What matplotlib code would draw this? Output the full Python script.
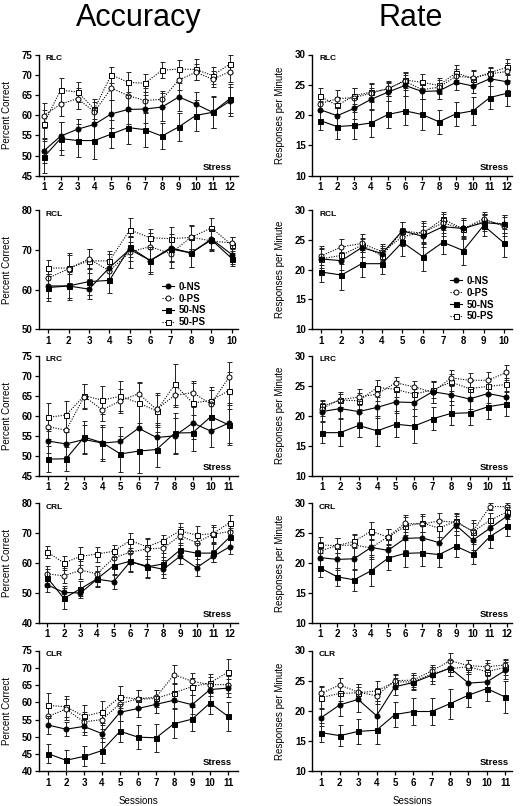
import matplotlib
matplotlib.use('Agg')
import matplotlib.pyplot as plt
from matplotlib.lines import Line2D

plt.rcParams['font.family'] = ['Liberation Sans', 'DejaVu Sans']
plt.rcParams['font.weight'] = 'bold'

# ---------------- data ----------------
series_names = ['0-NS', '0-PS', '50-NS', '50-PS']
panel_names = ['RLC', 'RCL', 'LRC', 'CRL', 'CLR']

sessions_RLC = [1, 2, 3, 4, 5, 6, 7, 8, 9, 10, 11, 12]
sessions_RCL = [1, 2, 3, 4, 5, 6, 7, 8, 9, 10]
sessions_LRC = [1, 2, 3, 4, 5, 6, 7, 8, 9, 10, 11]
sessions_CRL = [1, 2, 3, 4, 5, 6, 7, 8, 9, 10, 11, 12]
sessions_CLR = [1, 2, 3, 4, 5, 6, 7, 8, 9, 10, 11]

# Accuracy (Percent Correct)
acc_RLC_0NS = [51.1, 54.8, 56.5, 57.7, 60.3, 61.4, 61.5, 62.0, 64.5, 62.7, 60.7, 63.4]
acc_RLC_0PS = [59.9, 62.7, 64.1, 60.8, 66.7, 64.8, 63.6, 63.9, 68.7, 70.6, 68.9, 70.7]
acc_RLC_50NS = [49.6, 54.2, 53.7, 53.7, 55.3, 56.9, 56.4, 54.8, 57.1, 59.9, 60.7, 64.0]
acc_RLC_50PS = [57.8, 66.2, 65.7, 61.5, 70.0, 68.1, 67.9, 71.1, 71.4, 71.3, 69.8, 72.6]
acc_RLC_0NS_err = [3.0, 3.5, 2.5, 4.0, 3.5, 3.5, 3.5, 3.5, 3.5, 3.0, 4.0, 3.5]
acc_RLC_0PS_err = [3.0, 3.0, 2.5, 2.5, 3.0, 3.0, 3.0, 2.0, 2.5, 2.0, 2.0, 2.5]
acc_RLC_50NS_err = [3.9, 4.0, 4.0, 4.6, 3.5, 4.0, 4.3, 3.3, 3.4, 3.8, 3.8, 3.6]
acc_RLC_50PS_err = [3.5, 3.0, 2.5, 2.5, 2.0, 2.5, 2.2, 2.0, 2.2, 2.5, 2.0, 2.2]

acc_RCL_0NS = [60.9, 60.9, 60.1, 65.5, 70.1, 67.3, 70.5, 69.2, 72.7, 68.8]
acc_RCL_0PS = [62.9, 65.2, 67.7, 64.7, 69.4, 70.8, 69.0, 73.2, 72.2, 71.7]
acc_RCL_50NS = [60.5, 60.9, 62.0, 62.3, 70.6, 67.3, 70.2, 69.2, 72.5, 67.8]
acc_RCL_50PS = [65.4, 65.4, 67.2, 67.2, 75.0, 73.0, 72.8, 73.1, 75.5, 71.2]
acc_RCL_0NS_err = [3.0, 3.0, 2.5, 3.5, 3.0, 3.5, 3.5, 3.5, 2.5, 2.5]
acc_RCL_0PS_err = [3.0, 3.5, 2.5, 3.0, 4.0, 3.5, 3.5, 3.0, 2.5, 1.5]
acc_RCL_50NS_err = [3.5, 3.5, 3.5, 3.2, 2.5, 3.0, 3.0, 3.5, 2.5, 2.0]
acc_RCL_50PS_err = [2.0, 3.8, 3.0, 2.5, 3.0, 2.2, 2.8, 3.0, 2.5, 2.0]

acc_LRC_0NS = [53.7, 53.0, 54.1, 53.2, 53.6, 56.9, 54.6, 55.0, 58.2, 56.2, 58.2]
acc_LRC_0PS = [57.3, 56.4, 64.8, 61.5, 63.7, 65.5, 61.6, 65.1, 65.8, 62.9, 69.6]
acc_LRC_50NS = [49.2, 49.3, 54.7, 53.3, 50.5, 51.2, 51.6, 55.7, 55.8, 59.8, 57.7]
acc_LRC_50PS = [59.6, 60.2, 65.0, 63.9, 64.9, 63.2, 61.2, 67.8, 63.2, 63.8, 66.3]
acc_LRC_0NS_err = [3.0, 3.0, 3.5, 4.0, 3.5, 5.5, 3.5, 4.5, 4.0, 4.0, 5.0]
acc_LRC_0PS_err = [3.0, 3.5, 3.0, 2.8, 3.0, 3.0, 4.0, 3.0, 2.8, 3.5, 3.9]
acc_LRC_50NS_err = [3.2, 3.0, 4.0, 4.5, 4.5, 5.5, 4.3, 5.0, 4.5, 3.5, 5.0]
acc_LRC_50PS_err = [3.5, 3.5, 3.0, 3.5, 3.8, 5.0, 4.0, 5.1, 5.0, 3.5, 4.5]

acc_CRL_0NS = [52.7, 50.2, 50.0, 54.6, 53.8, 60.4, 59.0, 57.9, 62.2, 58.4, 62.2, 65.4]
acc_CRL_0PS = [56.4, 55.7, 57.6, 56.4, 61.7, 63.6, 64.7, 65.0, 69.1, 66.8, 69.6, 70.5]
acc_CRL_50NS = [55.1, 48.2, 51.4, 54.7, 59.1, 60.6, 58.7, 59.7, 64.3, 63.3, 63.3, 68.6]
acc_CRL_50PS = [63.7, 60.0, 62.2, 63.0, 63.9, 67.5, 65.4, 67.5, 70.7, 69.3, 69.8, 73.5]
acc_CRL_0NS_err = [2.5, 2.0, 1.8, 2.6, 2.4, 3.0, 3.5, 3.0, 2.5, 2.8, 2.0, 2.5]
acc_CRL_0PS_err = [2.5, 2.5, 3.0, 2.5, 3.0, 3.5, 3.2, 3.0, 3.0, 2.5, 2.5, 2.5]
acc_CRL_50NS_err = [3.0, 3.5, 2.5, 2.5, 3.0, 3.5, 3.8, 3.5, 2.5, 3.5, 3.0, 3.0]
acc_CRL_50PS_err = [2.0, 2.3, 3.0, 2.5, 2.0, 2.5, 3.0, 2.0, 2.8, 3.0, 3.0, 2.5]

acc_CLR_0NS = [53.4, 52.2, 53.0, 50.9, 57.1, 58.2, 59.4, 60.6, 59.3, 63.7, 64.1]
acc_CLR_0PS = [55.9, 58.0, 54.3, 55.0, 59.6, 61.0, 61.5, 68.0, 66.1, 65.1, 65.1]
acc_CLR_50NS = [45.1, 43.2, 44.3, 46.0, 51.6, 49.9, 49.7, 53.8, 55.1, 59.8, 55.9]
acc_CLR_50PS = [59.1, 58.7, 55.9, 57.2, 61.6, 60.9, 61.1, 62.8, 64.5, 65.6, 68.8]
acc_CLR_0NS_err = [2.5, 2.0, 2.5, 2.5, 2.5, 2.5, 2.5, 2.4, 2.7, 2.0, 2.5]
acc_CLR_0PS_err = [2.5, 3.0, 2.8, 2.8, 2.5, 2.6, 2.2, 2.8, 2.3, 2.3, 2.5]
acc_CLR_50NS_err = [2.8, 3.1, 2.9, 3.6, 3.1, 3.5, 4.0, 4.2, 3.5, 3.3, 4.2]
acc_CLR_50PS_err = [3.7, 3.0, 3.3, 3.3, 3.2, 2.8, 2.5, 2.7, 2.5, 2.7, 3.7]

# Rate (Responses per Minute)
rate_RLC_0NS = [20.9, 19.9, 21.1, 22.6, 23.8, 24.9, 23.9, 24.0, 25.4, 24.8, 26.0, 25.5]
rate_RLC_0PS = [21.9, 22.7, 22.9, 23.6, 24.4, 25.6, 24.2, 24.6, 26.4, 26.2, 26.8, 27.2]
rate_RLC_50NS = [19.1, 18.1, 18.3, 18.7, 20.1, 20.7, 20.1, 18.9, 20.2, 20.7, 22.9, 23.6]
rate_RLC_50PS = [23.1, 21.6, 23.2, 23.8, 24.3, 25.8, 25.4, 24.9, 27.0, 26.0, 27.0, 27.9]
rate_RLC_0NS_err = [1.5, 1.5, 1.8, 1.8, 1.5, 1.7, 1.3, 1.3, 1.3, 1.2, 1.2, 1.3]
rate_RLC_0PS_err = [1.3, 1.4, 1.5, 1.5, 1.2, 1.4, 1.5, 1.2, 1.2, 1.2, 1.0, 1.4]
rate_RLC_50NS_err = [1.6, 2.1, 2.2, 2.3, 2.2, 2.4, 2.6, 2.0, 2.0, 2.3, 1.9, 2.1]
rate_RLC_50PS_err = [1.3, 1.4, 1.3, 1.5, 1.2, 1.3, 1.4, 1.2, 1.2, 1.2, 1.0, 1.3]

rate_RCL_0NS = [21.8, 21.5, 23.7, 22.7, 26.5, 25.6, 27.2, 26.9, 27.9, 27.6]
rate_RCL_0PS = [22.3, 23.8, 24.4, 23.0, 25.5, 26.3, 27.8, 26.9, 28.5, 27.3]
rate_RCL_50NS = [19.6, 19.1, 21.0, 21.0, 24.6, 22.2, 24.6, 23.2, 27.4, 24.5]
rate_RCL_50PS = [21.8, 22.4, 24.1, 22.3, 26.5, 26.1, 28.5, 26.8, 28.2, 27.6]
rate_RCL_0NS_err = [1.6, 1.5, 1.5, 1.2, 1.5, 1.8, 1.5, 1.5, 1.5, 1.5]
rate_RCL_0PS_err = [1.6, 1.4, 1.5, 1.3, 1.5, 1.9, 1.6, 1.7, 1.2, 1.6]
rate_RCL_50NS_err = [1.6, 2.5, 2.3, 1.8, 2.3, 2.5, 2.0, 2.4, 1.8, 2.3]
rate_RCL_50PS_err = [1.8, 1.5, 1.2, 1.3, 1.5, 1.8, 1.2, 1.5, 1.2, 1.5]

rate_LRC_0NS = [20.7, 21.2, 20.7, 21.4, 22.3, 22.2, 24.0, 23.5, 22.8, 23.7, 23.1]
rate_LRC_0PS = [21.2, 22.7, 23.1, 23.6, 25.5, 24.8, 23.9, 26.3, 25.9, 25.9, 27.2]
rate_LRC_50NS = [17.2, 17.2, 18.4, 17.5, 18.6, 18.3, 19.5, 20.4, 20.5, 21.5, 22.0]
rate_LRC_50PS = [21.6, 22.6, 22.5, 24.7, 24.4, 23.6, 24.3, 25.6, 24.5, 24.9, 25.2]
rate_LRC_0NS_err = [1.5, 1.6, 1.7, 1.7, 1.8, 2.3, 1.8, 1.7, 1.6, 1.5, 1.7]
rate_LRC_0PS_err = [1.2, 1.2, 1.3, 1.2, 1.0, 1.0, 1.7, 1.3, 1.2, 1.4, 1.2]
rate_LRC_50NS_err = [1.8, 2.2, 2.0, 2.5, 2.2, 2.8, 1.9, 2.0, 2.0, 2.0, 2.0]
rate_LRC_50PS_err = [1.0, 1.1, 1.3, 1.2, 1.3, 1.2, 1.4, 1.4, 1.3, 1.2, 1.1]

rate_CRL_0NS = [20.9, 20.6, 20.7, 22.6, 22.1, 24.1, 24.2, 23.4, 26.3, 23.8, 25.8, 27.8]
rate_CRL_0PS = [22.0, 22.9, 23.0, 22.5, 24.4, 26.6, 26.5, 27.0, 26.8, 25.3, 29.4, 29.4]
rate_CRL_50NS = [19.2, 17.7, 17.2, 18.7, 20.8, 21.6, 21.7, 21.4, 22.8, 21.5, 24.4, 26.2]
rate_CRL_50PS = [23.0, 22.9, 23.6, 25.3, 24.3, 26.1, 26.7, 25.8, 27.0, 25.2, 27.1, 28.5]
rate_CRL_0NS_err = [1.8, 1.8, 1.9, 2.0, 1.8, 2.0, 2.2, 2.0, 1.6, 1.7, 1.7, 1.5]
rate_CRL_0PS_err = [1.5, 1.3, 1.8, 1.5, 1.3, 1.4, 1.3, 1.4, 1.5, 1.8, 0.6, 0.6]
rate_CRL_50NS_err = [1.5, 1.5, 1.8, 2.6, 1.9, 2.3, 2.2, 2.0, 1.8, 1.6, 1.9, 1.7]
rate_CRL_50PS_err = [1.3, 1.2, 1.1, 1.5, 1.3, 1.5, 1.5, 1.4, 1.2, 1.4, 1.3, 1.2]

rate_CLR_0NS = [18.9, 21.0, 21.9, 19.2, 24.0, 24.7, 25.9, 27.1, 24.6, 24.8, 26.7]
rate_CLR_0PS = [22.9, 24.3, 23.1, 22.5, 25.0, 25.1, 26.6, 28.3, 27.5, 27.3, 27.6]
rate_CLR_50NS = [16.4, 15.9, 16.6, 16.8, 19.4, 19.9, 19.9, 21.2, 22.6, 23.7, 22.3]
rate_CLR_50PS = [22.2, 22.9, 23.0, 23.3, 24.8, 24.8, 26.1, 27.0, 27.3, 26.5, 27.2]
rate_CLR_0NS_err = [1.4, 1.9, 2.1, 2.4, 1.4, 1.3, 1.4, 1.4, 1.5, 1.7, 1.4]
rate_CLR_0PS_err = [1.2, 1.2, 1.4, 1.3, 1.1, 1.2, 1.0, 1.3, 1.0, 1.1, 1.0]
rate_CLR_50NS_err = [1.6, 1.7, 2.1, 2.2, 2.0, 2.3, 2.3, 2.5, 2.0, 2.1, 2.6]
rate_CLR_50PS_err = [1.7, 1.3, 1.4, 1.7, 1.2, 1.2, 1.2, 1.3, 1.2, 1.5, 1.3]

acc_yticks = {'RLC': [45, 50, 55, 60, 65, 70, 75], 'RCL': [50, 60, 70, 80],
              'LRC': [45, 50, 55, 60, 65, 70, 75], 'CRL': [40, 50, 60, 70, 80],
              'CLR': [40, 45, 50, 55, 60, 65, 70, 75]}
rate_yticks = [10, 15, 20, 25, 30]

# ---------------- assemble ----------------
G = globals()
sessions = {p: G['sessions_' + p] for p in panel_names}

def get(kind, p):
    vals, errs = {}, {}
    for s in series_names:
        key = s.replace('-', '')
        vals[s] = G[f'{kind}_{p}_{key}']
        errs[s] = G[f'{kind}_{p}_{key}_err']
    return vals, errs

styles = {
    '0-NS': dict(marker='o', mfc='black', ls='-'),
    '0-PS': dict(marker='o', mfc='white', ls=(0, (1, 1.3))),
    '50-NS': dict(marker='s', mfc='black', ls='-'),
    '50-PS': dict(marker='s', mfc='white', ls=(0, (1, 1.3))),
}
draw_order = ['50-PS', '0-PS', '0-NS', '50-NS']

W, H = 522, 806
fig = plt.figure(figsize=(W / 100, H / 100), dpi=100)

rows = [(54.5, 175.7), (210, 329.3), (355.6, 476), (503, 623), (650.5, 771.3)]
cols = {'acc': (39, 238), 'rate': (312, 512)}

acc_xlim = {'RLC': (0.72, 12.5), 'RCL': (0.55, 10.3), 'LRC': (0.5, 11.5),
            'CRL': (0.5, 12.5), 'CLR': (0.5, 11.55)}
rate_xlim = {'RLC': (0.52, 12.3), 'RCL': (0.55, 10.4), 'LRC': (0.47, 11.3),
             'CRL': (0.52, 12.3), 'CLR': (0.49, 11.37)}


def make_ax(x0, x1, ytop, ybot):
    return fig.add_axes([x0 / W, 1 - ybot / H, (x1 - x0) / W, (ybot - ytop) / H])


for i, p in enumerate(panel_names):
    ytop, ybot = rows[i]
    for kind in ['acc', 'rate']:
        x0, x1 = cols[kind]
        ax = make_ax(x0, x1, ytop, ybot)
        vals, errs = get(kind, p)
        x = sessions[p]
        for s in draw_order:
            st = styles[s]
            ax.errorbar(x, vals[s], yerr=errs[s], color='black', lw=0.8,
                        ls=st['ls'], marker=st['marker'], ms=3.6,
                        mfc=st['mfc'], mec='black', mew=0.7,
                        ecolor='#222222', elinewidth=0.7, capsize=1.8,
                        capthick=0.7, zorder=3 if 'NS' in s else 2)
        if kind == 'acc':
            yt = acc_yticks[p]
            ax.set_xlim(*acc_xlim[p])
            ax.set_ylabel('Percent Correct', fontsize=7)
            stress_x = 0.97
        else:
            yt = rate_yticks
            ax.set_xlim(*rate_xlim[p])
            ax.set_ylabel('Responses per Minute', fontsize=7)
            stress_x = 0.985
        ax.set_ylim(yt[0], yt[-1])
        ax.set_yticks(yt)
        ax.set_xticks(x)
        ax.yaxis.set_label_coords(-0.135, 0.5)
        for sp in ['top', 'right']:
            ax.spines[sp].set_visible(False)
        for sp in ['left', 'bottom']:
            ax.spines[sp].set_linewidth(1.0)
        ax.tick_params(direction='out', length=3, width=0.9, labelsize=7, pad=1.5)
        ax.text(0.035, 0.965, p, transform=ax.transAxes, fontsize=6,
                fontweight='bold', ha='left', va='center')
        if p != 'RCL':
            ax.text(stress_x, 0.07, 'Stress', transform=ax.transAxes,
                    fontsize=6.8, fontweight='bold', ha='right', va='center')
        else:
            handles = [Line2D([0], [0], color='black', lw=0.8, ls=styles[s]['ls'],
                              marker=styles[s]['marker'], ms=3.6,
                              mfc=styles[s]['mfc'], mec='black', mew=0.7)
                       for s in series_names]
            anchor = (0.62, 0.40) if kind == 'acc' else (0.69, 0.45)
            ax.legend(handles, series_names, loc='upper left', bbox_to_anchor=anchor,
                      frameon=False, fontsize=7, handlelength=1.2,
                      handletextpad=0.5, labelspacing=0.2, borderpad=0,
                      borderaxespad=0)
        if i == len(panel_names) - 1:
            ax.set_xlabel('Sessions', fontsize=7, labelpad=6)

fig.text(139 / W, 1 - 18 / H, 'Accuracy', ha='center', va='center',
         fontsize=22, fontweight='normal')
fig.text(411 / W, 1 - 18 / H, 'Rate', ha='center', va='center',
         fontsize=22, fontweight='normal')

fig.savefig('out.png', dpi=100)
